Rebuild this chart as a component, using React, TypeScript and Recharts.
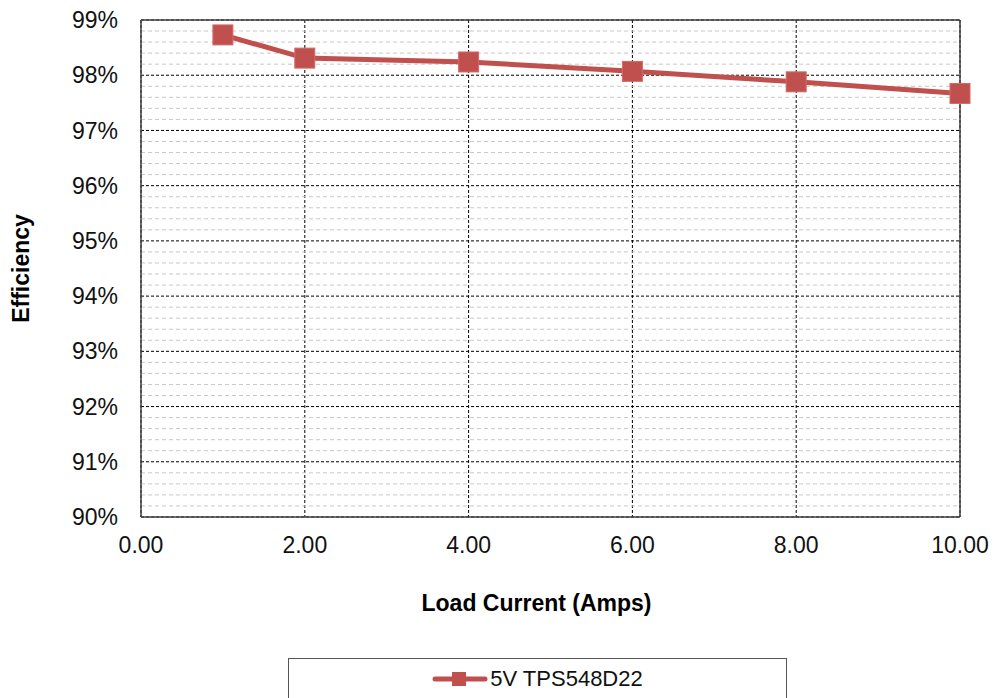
import React from 'react';
import { LineChart, Line, XAxis, YAxis, CartesianGrid, ReferenceLine, Legend } from 'recharts';

const loadCurrent = [1, 2, 4, 6, 8, 10];
const efficiency = [98.73, 98.31, 98.24, 98.07, 97.88, 97.67];
const xTicks = [0, 2, 4, 6, 8, 10];
const yTicks = [90, 91, 92, 93, 94, 95, 96, 97, 98, 99];
const minorY: number[] = [];
for (let i = 0; i < 9; i++) {
  for (let j = 1; j < 5; j++) minorY.push(90 + i + j * 0.2);
}
const seriesName = '5V TPS548D22';
const RED = '#C0504D';
const FONT = 'Liberation Sans, Arial, sans-serif';

const data = loadCurrent.map((x, i) => ({ x, y: efficiency[i] }));

const SquareDot = (props: any) => {
  const { cx, cy } = props;
  if (cx == null || cy == null) return null;
  return <rect x={cx - 10} y={cy - 10} width={20} height={20} fill={RED} stroke="#D46A67" strokeWidth={1} />;
};

const LegendContent = () => (
  <div style={{ boxSizing: 'border-box', width: 499, height: 60, border: '1px solid #555', background: '#fff', display: 'flex', alignItems: 'flex-start', justifyContent: 'center', paddingTop: 8 }}>
    <svg width={56} height={24} style={{ marginRight: 2 }}>
      <line x1={3} y1={12} x2={53} y2={12} stroke={RED} strokeWidth={5} strokeLinecap="round" />
      <rect x={20} y={5} width={14} height={14} fill={RED} />
    </svg>
    <span style={{ fontFamily: FONT, fontSize: 22, color: '#111', lineHeight: '24px', whiteSpace: 'pre' }}>{seriesName}</span>
  </div>
);

export default function App() {
  return (
    <div style={{ position: 'absolute', left: 0, top: 0, width: 994, height: 698, background: '#fff', overflow: 'hidden' }}>
      <LineChart width={994} height={698} data={data} margin={{ top: 20, right: 34, bottom: 0, left: 0 }}>
        {minorY.map((v) => (
          <ReferenceLine key={v} y={v} stroke="#c8c8c8" strokeDasharray="4 3" strokeWidth={1} />
        ))}
        <CartesianGrid stroke="#000" strokeDasharray="3 2" horizontal vertical />
        <ReferenceLine y={99} stroke="#404040" strokeWidth={1.5} />
        <ReferenceLine x={10} stroke="#404040" strokeWidth={1.5} />
        <XAxis
          dataKey="x"
          type="number"
          domain={[0, 10]}
          ticks={xTicks}
          tickFormatter={(v: number) => v.toFixed(2)}
          height={121}
          tickLine={false}
          tickSize={0}
          tickMargin={20}
          axisLine={{ stroke: '#404040', strokeWidth: 1.5 }}
          tick={{ fill: '#111', fontSize: 23, fontFamily: FONT }}
          label={{ value: 'Load Current (Amps)', position: 'insideTop', offset: 78, dx: -14, fill: '#000', fontSize: 23, fontWeight: 'bold', fontFamily: FONT }}
        />
        <YAxis
          type="number"
          domain={[90, 99]}
          ticks={yTicks}
          tickFormatter={(v: number) => `${v}%`}
          width={141}
          tickLine={false}
          tickSize={0}
          tickMargin={23}
          axisLine={{ stroke: '#404040', strokeWidth: 1.5 }}
          allowDataOverflow
          tick={{ fill: '#111', fontSize: 23, fontFamily: FONT }}
          label={{ value: 'Efficiency', angle: -90, position: 'insideLeft', offset: 21, fill: '#000', fontSize: 23, fontWeight: 'bold', fontFamily: FONT, style: { textAnchor: 'middle' } }}
        />
        <Line
          dataKey="y"
          name={seriesName}
          stroke={RED}
          strokeWidth={5}
          dot={<SquareDot />}
          activeDot={false}
          isAnimationActive={false}
        />
        <Legend content={<LegendContent />} wrapperStyle={{ position: 'absolute', left: 288, top: 658, width: 499, height: 60 }} />
      </LineChart>
    </div>
  );
}
